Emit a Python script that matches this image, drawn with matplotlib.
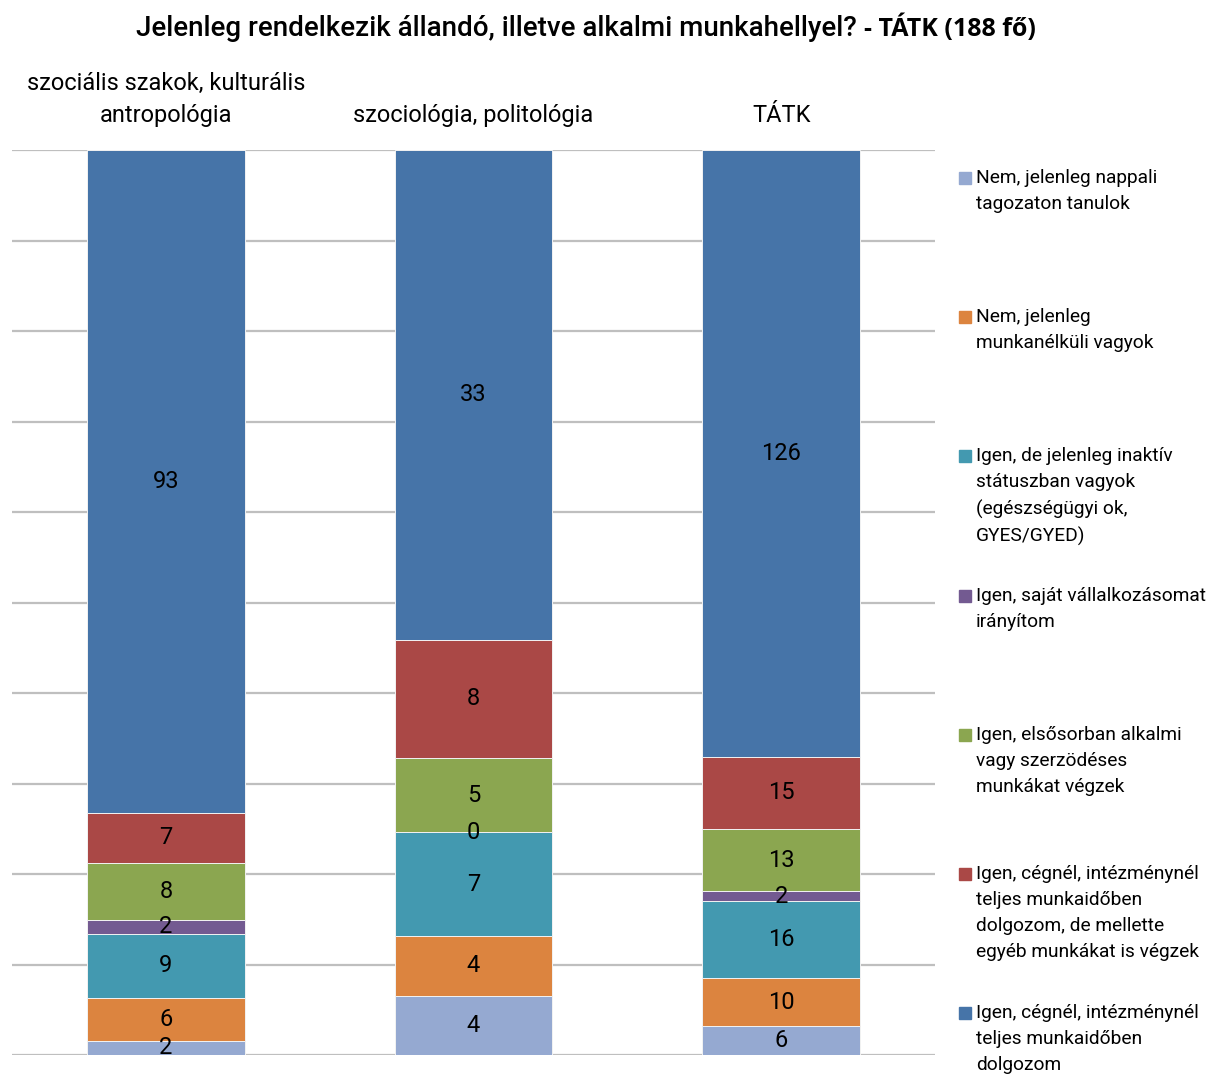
import matplotlib.pyplot as plt
from matplotlib import font_manager
from matplotlib.patches import Rectangle

categories = ["szociális szakok, kulturális\nantropológia", "szociológia, politológia", "TÁTK"]
series_names = [
    "Nem, jelenleg nappali\ntagozaton tanulok",
    "Nem, jelenleg\nmunkanélküli vagyok",
    "Igen, de jelenleg inaktív\nstátuszban vagyok\n(egészségügyi ok,\nGYES/GYED)",
    "Igen, saját vállalkozásomat\nirányítom",
    "Igen, elsősorban alkalmi\nvagy szerzödéses\nmunkákat végzek",
    "Igen, cégnél, intézménynél\nteljes munkaidőben\ndolgozom, de mellette\negyéb munkákat is végzek",
    "Igen, cégnél, intézménynél\nteljes munkaidőben\ndolgozom",
]
values = [
    [2, 4, 6],
    [6, 4, 10],
    [9, 7, 16],
    [2, 0, 2],
    [8, 5, 13],
    [7, 8, 15],
    [93, 33, 126],
]
colors = ["#95A9D1", "#DC843F", "#4399B0", "#735A91", "#8BA650", "#AA4846", "#4674A8"]

names = {f.name for f in font_manager.fontManager.ttflist}
narrow = "Liberation Sans Narrow" if "Liberation Sans Narrow" in names else "Roboto"
plt.rcParams["font.family"] = [narrow, "DejaVu Sans"]

fig = plt.figure(figsize=(12.1, 10.77), dpi=100)
ax = fig.add_axes([12 / 1210, 1 - 1055 / 1077, 923 / 1210, 905 / 1077])

totals = [sum(v[i] for v in values) for i in range(len(categories))]
x = list(range(len(categories)))
bottom = [0.0] * len(categories)
for vals, col in zip(values, colors):
    share = [v / t for v, t in zip(vals, totals)]
    ax.bar(x, share, width=0.513, bottom=bottom, color=col, edgecolor="#f2f2f2",
           linewidth=0.7, zorder=3)
    for i in x:
        ax.text(i, bottom[i] + share[i] / 2, str(vals[i]), ha="center", va="center",
                fontsize=17, color="black", zorder=4)
    bottom = [b + s for b, s in zip(bottom, share)]

ax.set_xlim(-0.5, 2.5)
ax.set_ylim(0, 1)
ax.set_yticks([i / 10 for i in range(11)])
ax.yaxis.grid(True, color="#bfbfbf", linewidth=1.6, zorder=0)
ax.tick_params(axis="y", left=False, labelleft=False)
ax.xaxis.tick_top()
ax.set_xticks(x)
ax.set_xticklabels(categories, fontsize=17, linespacing=1.5)
ax.tick_params(axis="x", top=False, pad=13)
for s in ax.spines.values():
    s.set_visible(False)

# title in two parts, the second one heavier
fig.text(857 / 1210, 1 - 28 / 1077, "Jelenleg rendelkezik állandó, illetve alkalmi munkahellyel?",
         ha="right", va="center", fontsize=19.95, fontweight="medium")
fig.text(864 / 1210, 1 - 28 / 1077, "- TÁTK (188 fő)",
         ha="left", va="center", fontsize=18, fontweight="bold", family=["Open Sans", "DejaVu Sans"])

leg_y = [178, 317, 456, 596, 735, 874, 1013]
for name, col, y in zip(series_names, colors, leg_y):
    fig.patches.append(Rectangle((959 / 1210, 1 - (y + 6) / 1077), 12 / 1210, 12 / 1077,
                                 transform=fig.transFigure, color=col))
    fig.text(976 / 1210, 1 - (y - 9) / 1077, name, ha="left", va="top",
             fontsize=13.8, linespacing=1.57)

fig.savefig("out.png", dpi=100)
